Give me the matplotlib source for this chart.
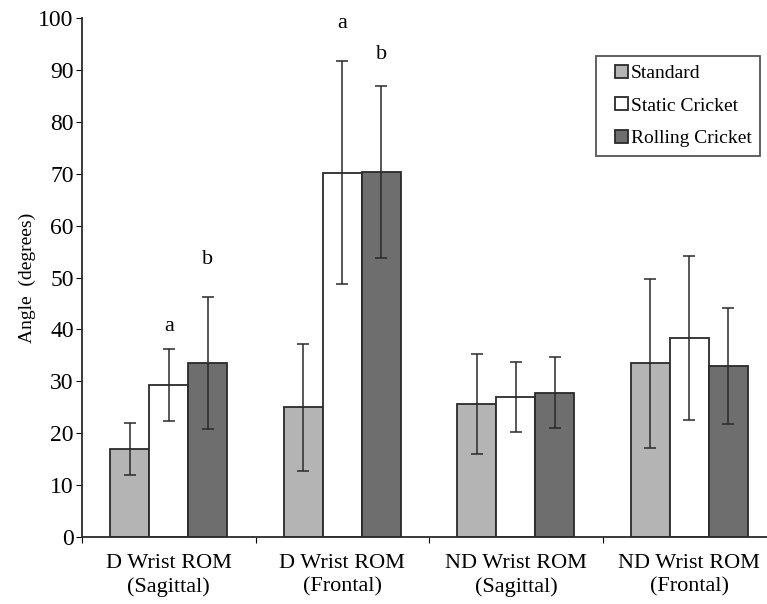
import numpy as np
import matplotlib.pyplot as plt
from matplotlib.patches import Patch, Rectangle
from matplotlib.legend_handler import HandlerPatch

# data
categories = ["D Wrist ROM\n(Sagittal)", "D Wrist ROM\n(Frontal)",
              "ND Wrist ROM\n(Sagittal)", "ND Wrist ROM\n(Frontal)"]
series = ["Standard", "Static Cricket", "Rolling Cricket"]
standard = [17.0, 25.0, 25.6, 33.5]
standard_err = [5.0, 12.2, 9.7, 16.3]
static = [29.3, 70.2, 27.0, 38.3]
static_err = [7.0, 21.5, 6.8, 15.8]
rolling = [33.5, 70.4, 27.8, 33.0]
rolling_err = [12.7, 16.6, 6.8, 11.2]
# significance letters: (category index, series index, letter, height)
marks = [(0, 1, "a", 40.5), (0, 2, "b", 53.4),
         (1, 1, "a", 99.0), (1, 2, "b", 93.0)]

colors = ["#b4b4b4", "#ffffff", "#6e6e6e"]
edge = "#2a2a2a"
plt.rcParams['font.family'] = ['Liberation Serif', 'DejaVu Serif']


def square_handle(legend, orig_handle, xdescent, ydescent, width, height, fontsize):
    # small square pushed to the right end of the handle box
    return Rectangle((width - height - xdescent, -ydescent), height, height)


fig = plt.figure(figsize=(7.67, 6.04), dpi=100)
ax = fig.add_axes([0.107, 0.111, 0.905, 0.859])

centers = np.arange(len(categories)) + 0.5
width = 0.225
values = [standard, static, rolling]
errors = [standard_err, static_err, rolling_err]
for i, (vals, errs) in enumerate(zip(values, errors)):
    x = centers + (i - 1) * width
    ax.bar(x, vals, width, color=colors[i], edgecolor=edge,
           linewidth=1.3, zorder=2)
    ax.errorbar(x, vals, yerr=errs, fmt="none", ecolor=edge,
                elinewidth=1.1, capsize=4, capthick=1.1, zorder=3)

for c, s, letter, h in marks:
    x = centers[c] + (s - 1) * width
    ax.text(x, h, letter, ha="center", va="center", fontsize=16)

ax.set_xlim(0, 4)
ax.set_ylim(0, 100)
ax.set_yticks(np.arange(0, 101, 10))
ax.set_xticks(np.arange(0, 5))
ax.set_xticklabels([])
ax.set_xticks(centers, minor=True)
ax.set_xticklabels(categories, minor=True, fontsize=16, linespacing=1.3)
ax.tick_params(axis="x", which="minor", length=0, pad=12)
ax.tick_params(axis="x", which="major", length=4, direction="out")
ax.tick_params(axis="y", labelsize=17, length=4, direction="out", pad=2)
for side in ["top", "right"]:
    ax.spines[side].set_visible(False)
for side in ["left", "bottom"]:
    ax.spines[side].set_linewidth(1.3)
    ax.spines[side].set_color(edge)

ax.set_ylabel("Angle  (degrees)", fontsize=14, labelpad=2)

handles = [Patch(facecolor=c, edgecolor=edge, linewidth=1.3, label=s)
           for c, s in zip(colors, series)]
leg = ax.legend(handles=handles, loc="upper right",
                bbox_to_anchor=(0.977, 0.927),
                fontsize=14, fancybox=False, edgecolor=edge,
                handlelength=1.2, handleheight=0.65, handletextpad=0.15,
                labelspacing=0.78, borderpad=0.45, borderaxespad=0,
                handler_map={Patch: HandlerPatch(patch_func=square_handle)})
leg.get_frame().set_linewidth(1.3)

fig.savefig("out.png", dpi=100)
